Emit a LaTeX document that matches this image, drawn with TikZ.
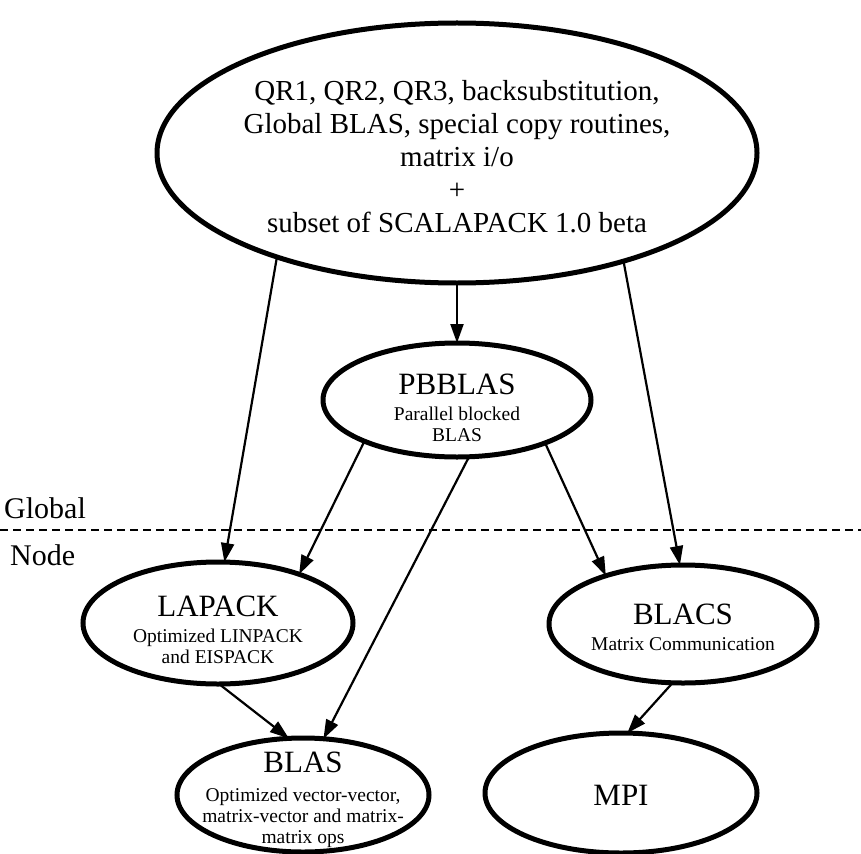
\documentclass[tikz,border=0pt]{standalone}
\usepackage{fontspec}
\setmainfont{Liberation Serif}
\usetikzlibrary{arrows.meta,shapes.geometric}
\begin{document}
\begin{tikzpicture}[x=1pt,y=-1pt,
  blob/.style={ellipse,draw,line width=5pt,inner sep=0pt,outer sep=0pt},
  txt/.style={inner sep=0pt,align=center,font=\fontsize{19.5}{21}\selectfont},
  conn/.style={line width=2.2pt,-{Triangle[length=19pt,width=13pt]}},
  side/.style={inner sep=0pt,anchor=west,font=\fontsize{30}{32}\selectfont},
  sep/.style={line width=1.3pt,dash pattern=on 8pt off 5pt},
]
\useasboundingbox (0,0) rectangle (861,853);
\newcommand{\bigtxt}[1]{{\fontsize{31}{33}\selectfont #1}}

% ellipses
\node[blob, minimum width=600pt, minimum height=260pt] (top) at (457,153) {};
\node[blob, minimum width=268pt, minimum height=114pt] (pbblas) at (457,400) {};
\node[blob, minimum width=270pt, minimum height=122pt] (lapack) at (218,623) {};
\node[blob, minimum width=268pt, minimum height=118pt] (blacs) at (683,624) {};
\node[blob, minimum width=252pt, minimum height=114pt] (blas) at (303,795) {};
\node[blob, minimum width=272pt, minimum height=120pt] (mpi) at (621,793) {};

% texts
\node[txt, font=\fontsize{29}{33}\selectfont] (topt) at (457,157)
  {QR1, QR2, QR3, backsubstitution,\\Global BLAS, special copy routines,\\matrix i/o\\+\\subset of SCALAPACK 1.0 beta};
\node[txt] (pbblast) at (457,408) {\bigtxt{PBBLAS}\\[5pt]Parallel blocked\\BLAS};
\node[txt] (lapackt) at (218,630) {\bigtxt{LAPACK}\\[5pt]Optimized LINPACK\\and EISPACK};
\node[txt] (blacst) at (683,627) {\bigtxt{BLACS}\\[5pt]Matrix Communication};
\node[txt] (blast) at (303,800) {\bigtxt{BLAS}\\[8pt]Optimized vector-vector,\\matrix-vector and matrix-\\matrix ops};
\node[txt] (mpit) at (621,795) {\bigtxt{MPI}};

% separator
\coordinate (dl) at (0,530);
\coordinate (dr) at (861,530);
\draw[sep] (dl) -- (dr);
\node[side] (glob) at (4,508) {Global};
\node[side] (nodel) at (10,555) {Node};

% connectors
\draw[conn] (top.210.3) -- (lapack.84.4);
\draw[conn] (top.south) -- (pbblas.north);
\draw[conn] (top.327.6) -- (blacs.93.6);
\draw[conn] (pbblas.204.8) -- (lapack.31.5);
\draw[conn] (pbblas.282) -- (blas.70.5);
\draw[conn] (pbblas.334.5) -- (blacs.148.7);
\draw[conn] (lapack.271.8) -- (blas.104.2);
\draw[conn] (blacs.260.4) -- (mpi.84.3);
\end{tikzpicture}
\end{document}
